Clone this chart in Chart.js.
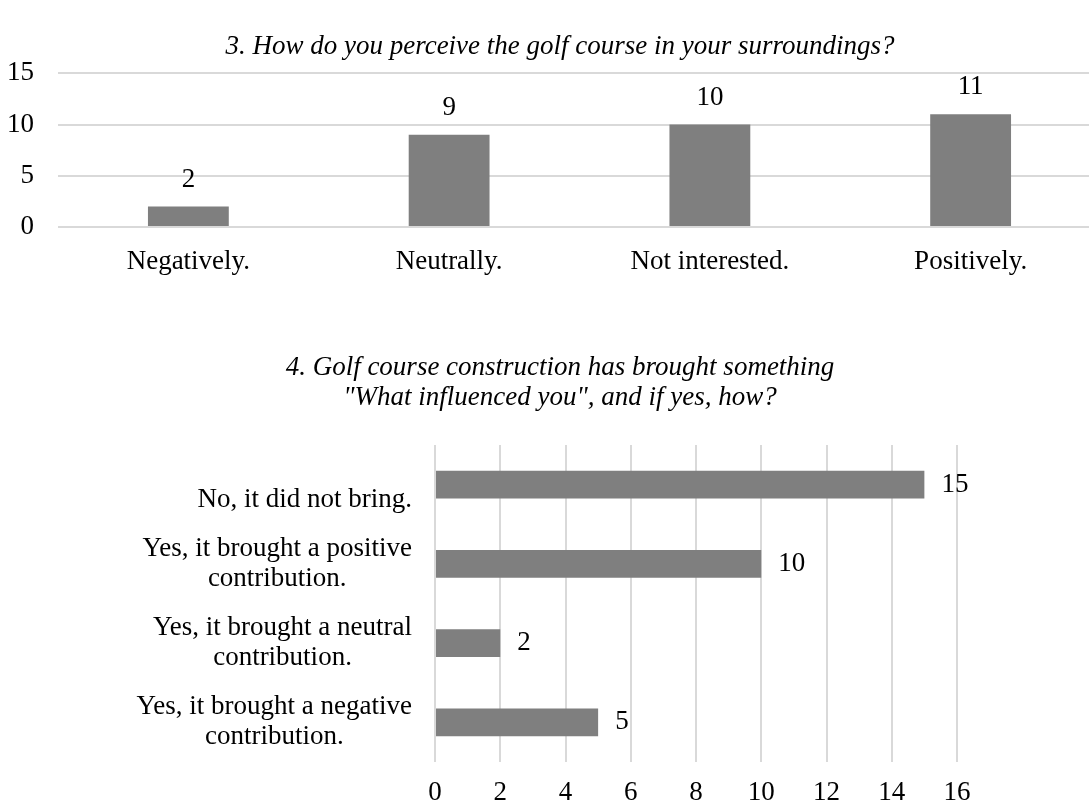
<!DOCTYPE html>
<html>
<head>
<meta charset="utf-8">
<script src="https://cdn.jsdelivr.net/npm/chart.js@4.4.1/dist/chart.umd.min.js"></script>
<style>
    body { margin: 0; background: #fff; overflow: hidden; width: 1089px; height: 804px; position: relative; }
    canvas { position: absolute; left: 0; }
    #perceiveChart { top: 0; }
    #influenceChart { top: 286px; }
</style>
</head>
<body>
<canvas id="perceiveChart" width="1120" height="279"></canvas>
<canvas id="influenceChart" width="1089" height="524"></canvas>
<script>
// chart 3 data
var perceiveTitle = '3. How do you perceive the golf course in your surroundings?';
var perceiveLabels = ['Negatively.', 'Neutrally.', 'Not interested.', 'Positively.'];
var perceiveValues = [2, 9, 10, 11];
var perceiveTicks = [0, 5, 10, 15];

// chart 4 data
var influenceTitle = ['4. Golf course construction has brought something', '"What influenced you", and if yes, how?'];
var influenceLabels = [
    ['', 'No, it did not bring.'],
    ['Yes, it brought a positive', 'contribution.'],
    ['Yes, it brought a neutral', 'contribution.'],
    ['Yes, it brought a negative', 'contribution.']
];
var influenceValues = [15, 10, 2, 5];
var influenceTicks = [0, 2, 4, 6, 8, 10, 12, 14, 16];

var serif = "'Liberation Serif', 'Times New Roman', serif";
Chart.defaults.font.family = serif;
Chart.defaults.color = '#000';

var fontSize = 27;
var barColor = '#7f7f7f';
var gridColor = '#d9d9d9';

// numbers next to / above each bar
var valueLabels = {
    id: 'valueLabels',
    afterDatasetsDraw: function (chart) {
        var ctx = chart.ctx;
        var meta = chart.getDatasetMeta(0);
        ctx.save();
        ctx.font = fontSize + 'px ' + serif;
        ctx.fillStyle = '#000';
        ctx.textBaseline = 'middle';
        meta.data.forEach(function (bar, i) {
            var v = chart.data.datasets[0].data[i];
            if (chart.options.indexAxis === 'y') {
                ctx.textAlign = 'left';
                ctx.fillText(v, bar.x + 17, bar.y);
            } else {
                ctx.textAlign = 'center';
                ctx.fillText(v, bar.x, bar.y - 27);
            }
        });
        ctx.restore();
    }
};

// category labels: block right aligned, lines centred inside the block
var wrappedLabels = {
    id: 'wrappedLabels',
    afterDraw: function (chart) {
        var scale = chart.scales.y;
        var ctx = chart.ctx;
        ctx.save();
        ctx.font = fontSize + 'px ' + serif;
        ctx.fillStyle = '#000';
        ctx.textAlign = 'center';
        ctx.textBaseline = 'middle';
        var right = scale.right - 23;
        var lh = 30;
        chart.data.labels.forEach(function (lines, i) {
            var widest = 0;
            lines.forEach(function (l) { widest = Math.max(widest, ctx.measureText(l).width); });
            var cx = right - widest / 2;
            var y0 = scale.getPixelForTick(i) - (lines.length - 1) * lh / 2;
            lines.forEach(function (l, k) { ctx.fillText(l, cx, y0 + k * lh); });
        });
        ctx.restore();
    }
};

new Chart(document.getElementById('perceiveChart'), {
    type: 'bar',
    data: {
        labels: perceiveLabels,
        datasets: [{
            data: perceiveValues,
            backgroundColor: barColor,
            borderWidth: 0,
            categoryPercentage: 1,
            barPercentage: 0.31
        }]
    },
    options: {
        responsive: false,
        animation: false,
        plugins: {
            legend: { display: false },
            tooltip: { enabled: false },
            title: {
                display: true,
                text: perceiveTitle,
                color: '#000',
                font: { size: fontSize, style: 'italic', weight: 'normal', lineHeight: 1.2 },
                padding: { top: 31, bottom: 10 }
            }
        },
        scales: {
            x: {
                afterFit: function (s) { s.height = 52; },
                grid: { display: false, drawTicks: false },
                border: { display: false },
                ticks: { font: { size: fontSize }, padding: 19, maxRotation: 0, autoSkip: false }
            },
            y: {
                min: perceiveTicks[0],
                max: perceiveTicks[perceiveTicks.length - 1],
                afterFit: function (s) { s.width = 58; },
                grid: { color: gridColor, lineWidth: 2, drawTicks: false },
                border: { display: false },
                ticks: { stepSize: perceiveTicks[1] - perceiveTicks[0], font: { size: fontSize }, padding: 24 }
            },
            // empty strip on the right, so the plot runs off the page edge
            // while the title stays centred where it is in the original
            spacer: {
                position: 'right',
                afterFit: function (s) { s.width = 19; },
                grid: { display: false, drawTicks: false },
                border: { display: false },
                ticks: { display: false }
            }
        }
    },
    plugins: [valueLabels]
});

new Chart(document.getElementById('influenceChart'), {
    type: 'bar',
    data: {
        labels: influenceLabels,
        datasets: [{
            data: influenceValues,
            backgroundColor: barColor,
            borderWidth: 0,
            categoryPercentage: 1,
            barPercentage: 0.353
        }]
    },
    options: {
        indexAxis: 'y',
        responsive: false,
        animation: false,
        layout: { padding: { left: 163, right: 132 } },
        plugins: {
            legend: { display: false },
            tooltip: { enabled: false },
            title: {
                display: true,
                text: influenceTitle,
                color: '#000',
                font: { size: fontSize, style: 'italic', weight: 'normal', lineHeight: 1.111 },
                padding: { top: 67, bottom: 32 }
            }
        },
        scales: {
            x: {
                min: influenceTicks[0],
                max: influenceTicks[influenceTicks.length - 1],
                afterFit: function (s) { s.height = 48; },
                grid: { color: gridColor, lineWidth: 2, drawTicks: false },
                border: { display: false },
                ticks: { stepSize: influenceTicks[1] - influenceTicks[0], font: { size: fontSize }, padding: 15, maxRotation: 0 }
            },
            y: {
                afterFit: function (s) { s.width = 272; },
                grid: { display: false },
                border: { display: false },
                ticks: { display: false }
            }
        }
    },
    plugins: [valueLabels, wrappedLabels]
});
</script>
</body>
</html>
